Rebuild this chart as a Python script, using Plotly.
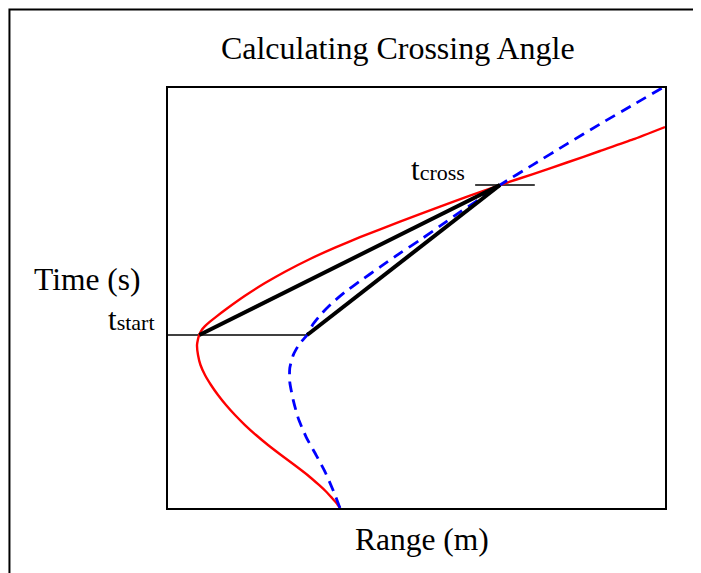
import plotly.graph_objects as go

# range (m) / time (s) in arbitrary 0-100 units
red_range = [34.61, 33.90, 33.00, 31.89, 30.38, 28.07, 25.45, 22.74, 20.12, 17.71, 15.49,
             13.48, 11.67, 10.06, 8.65, 7.44, 6.54, 6.04, 5.84, 6.00, 6.28, 6.74, 7.44, 8.45,
             9.86, 11.67, 15.49, 19.52, 23.54, 28.57, 33.60, 38.63, 46.68, 54.73, 60.76,
             66.80, 73.44, 80.28, 86.92, 93.56, 100.0]
red_time = [0.0, 1.19, 2.38, 3.81, 5.48, 7.86, 10.24, 12.62, 15.00, 17.38, 19.76, 22.14,
            24.52, 26.90, 29.29, 31.67, 34.05, 36.43, 38.81, 40.00, 41.19, 42.29, 43.29,
            44.36, 45.69, 47.31, 50.52, 53.55, 56.26, 59.29, 62.00, 64.48, 68.19, 71.76,
            74.37, 76.90, 79.52, 82.26, 85.00, 87.74, 90.71]

blue_range = [34.6, 33.2, 31.6, 29.8, 27.8, 26.2, 25.2, 24.5, 24.5, 25.2, 26.4, 28.0, 29.2,
              31.0, 33.2, 35.6, 38.6, 42.7, 46.7, 50.7, 54.7, 58.8, 62.8, 66.8, 73.4, 80.3,
              86.9, 93.6, 99.4]
blue_time = [0.0, 4.3, 8.6, 12.6, 16.9, 21.4, 25.7, 30.0, 33.3, 36.4, 39.0, 41.2, 43.8,
             46.4, 49.0, 51.4, 54.0, 57.4, 60.7, 63.8, 67.1, 70.5, 73.6, 76.9, 81.7, 86.7,
             91.4, 96.0, 100.0]

t_start = 41.2
t_cross = 76.9
red_start_range = 6.3
blue_start_range = 28.0
cross_range = 66.8
cross_tick = [61.8, 73.8]

SERIF = "Liberation Serif, Times New Roman, serif"

fig = go.Figure()

# thin marker lines for t_start and t_cross
fig.add_trace(go.Scatter(x=[0, blue_start_range], y=[t_start, t_start], mode='lines',
                         line=dict(color='black', width=1.5), cliponaxis=False))
fig.add_trace(go.Scatter(x=cross_tick, y=[t_cross, t_cross], mode='lines',
                         line=dict(color='black', width=1.5)))

fig.add_trace(go.Scatter(x=red_range, y=red_time, mode='lines',
                         line=dict(color='#ff0000', width=2.4, shape='spline', smoothing=0.5)))
fig.add_trace(go.Scatter(x=blue_range, y=blue_time, mode='lines',
                         line=dict(color='#0000ff', width=2.8, dash='11px,7px',
                                   shape='spline', smoothing=0.6)))

# chords from start points to the crossing point
fig.add_trace(go.Scatter(x=[red_start_range, cross_range], y=[t_start, t_cross], mode='lines',
                         line=dict(color='black', width=4)))
fig.add_trace(go.Scatter(x=[blue_start_range, cross_range], y=[t_start, t_cross], mode='lines',
                         line=dict(color='black', width=4)))

fig.update_xaxes(range=[0, 100], showline=True, mirror=True, linecolor='black', linewidth=2,
                 showgrid=False, zeroline=False, showticklabels=False, ticks='')
fig.update_yaxes(range=[0, 100], showline=True, mirror=True, linecolor='black', linewidth=2,
                 showgrid=False, zeroline=False, showticklabels=False, ticks='')

fig.add_annotation(text="t<span style='font-size:22px'>start</span>", xref='paper', yref='y',
                   x=-0.022, y=t_start, xanchor='right', yanchor='bottom', yshift=-4,
                   showarrow=False, font=dict(family=SERIF, size=31, color='black'))
fig.add_annotation(text="t<span style='font-size:22px'>cross</span>", xref='x', yref='y',
                   x=48.4, y=t_cross, xanchor='left', yanchor='bottom', yshift=-4,
                   showarrow=False, font=dict(family=SERIF, size=31, color='black'))
fig.add_annotation(text="Time (s)", xref='paper', yref='paper', x=-0.163, y=0.545,
                   xanchor='center', yanchor='middle', showarrow=False,
                   font=dict(family=SERIF, size=31.5, color='black'))
fig.add_annotation(text="Range (m)", xref='paper', yref='paper', x=0.511, y=-0.076,
                   xanchor='center', yanchor='middle', showarrow=False,
                   font=dict(family=SERIF, size=31.5, color='black'))

# outer frame (only left and top edges show in the picture)
fig.add_shape(type='rect', xref='paper', yref='paper', x0=-0.319, y0=-0.3, x1=1.2, y1=1.187,
              line=dict(color='black', width=2), layer='below')

# page body adds an 8px offset, so margins are shifted to keep the plot in place
fig.update_layout(
    width=701, height=573,
    margin=dict(l=160, r=44, t=80, b=73),
    plot_bgcolor='white', paper_bgcolor='white',
    showlegend=False,
    title=dict(text="Calculating Crossing Angle", x=0.556, xanchor='center',
               y=0.930, yanchor='middle', font=dict(family=SERIF, size=32, color='black')),
)

fig.write_html("out.html")
